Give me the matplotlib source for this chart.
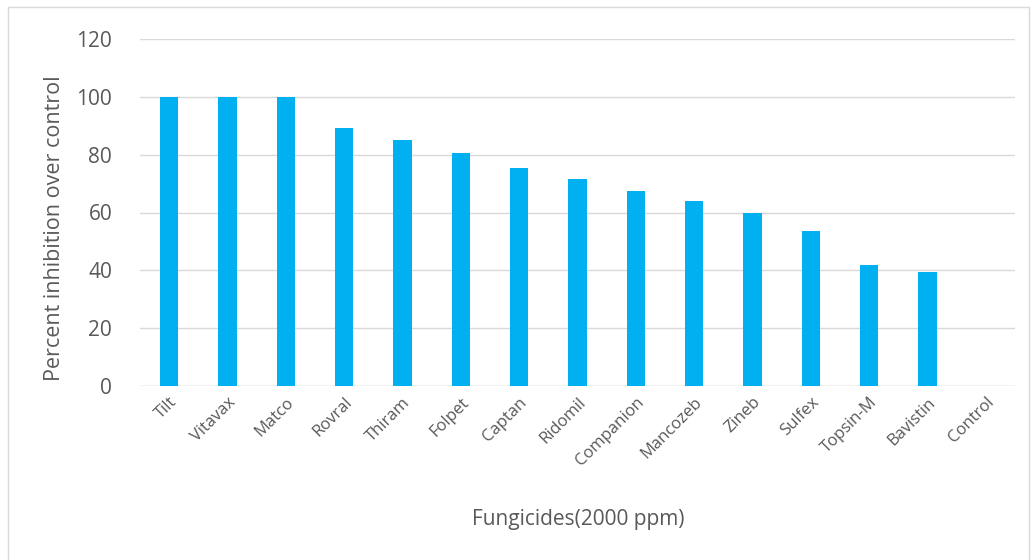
import matplotlib.pyplot as plt
from matplotlib.patches import Rectangle

# Data
fungicides = ['Tilt', 'Vitavax', 'Matco', 'Rovral', 'Thiram', 'Folpet', 'Captan',
              'Ridomil', 'Companion', 'Mancozeb', 'Zineb', 'Sulfex', 'Topsin-M',
              'Bavistin', 'Control']
inhibition = [100, 100, 100, 89.1, 85.2, 80.6, 75.4, 71.5, 67.5, 64.0, 59.8,
              53.6, 41.9, 39.3, 0]
y_ticks = [0, 20, 40, 60, 80, 100, 120]

plt.rcParams['font.family'] = ['Open Sans', 'DejaVu Sans']
text_color = '#595959'

fig = plt.figure(figsize=(10.32, 5.6), dpi=100)
ax = fig.add_axes([140 / 1032, 1 - 386 / 560, 875 / 1032, 347 / 560])

x = range(len(fungicides))
ax.bar(x, inhibition, width=0.31, color='#00B0F0', zorder=3)

ax.set_xlim(-0.5, len(fungicides) - 0.5)
ax.set_ylim(0, 120)
ax.set_yticks(y_ticks)
ax.set_xticks(list(x))
ax.set_xticklabels(fungicides, rotation=45, ha='right', rotation_mode='anchor',
                   fontsize=12, color=text_color)
ax.tick_params(axis='y', length=0, pad=20, labelsize=15, labelcolor=text_color)
ax.tick_params(axis='x', length=0, pad=6)
ax.yaxis.grid(True, color='#d9d9d9', linewidth=1, zorder=0)
for s in ax.spines.values():
    s.set_visible(False)
ax.axhline(0, color='#d9d9d9', linewidth=1, zorder=2)

ax.set_ylabel('Percent inhibition over control', fontsize=15.5, color=text_color)
ax.yaxis.set_label_coords(-0.086, 0.455)
fig.text(578 / 1032, 1 - 519 / 560, 'Fungicides(2000 ppm)', fontsize=15,
         color=text_color, ha='center', va='center')

# light frame around the chart area
fig.patches.append(Rectangle((8 / 1032, -0.01), 1021 / 1032, 1 - 7 / 560 + 0.01,
                             transform=fig.transFigure, fill=False,
                             edgecolor='#d9d9d9', linewidth=1))

fig.savefig('out.png', dpi=100)
